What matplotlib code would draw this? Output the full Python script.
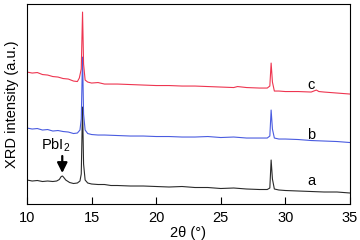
import matplotlib
matplotlib.use('Agg')
import matplotlib.pyplot as plt
import numpy as np

plt.rcParams['font.family'] = ['Liberation Sans', 'DejaVu Sans']
plt.rcParams['mathtext.default'] = 'regular'

# ---------- data (2theta in deg, intensity in a.u. with offsets) ----------
# a: black
xa = [10.0, 10.4, 10.8, 11.2, 11.6, 12.0, 12.3, 12.5, 12.65, 12.75, 12.85, 13.0,
      13.3, 13.6, 13.9, 14.1, 14.2, 14.3, 14.38, 14.5, 14.7, 15.0, 15.5, 16.0,
      16.5, 17.0, 18.0, 19.0, 20.0, 21.0, 22.0, 23.0, 24.0, 25.0, 26.0, 27.0,
      28.0, 28.6, 28.8, 28.9, 29.0, 29.15, 29.5, 30.0, 31.0, 32.0, 33.0, 34.0, 35.0]
ya = [24, 23, 23.5, 22.5, 23, 22.5, 23, 24.5, 27.5, 28, 26.5, 24,
      21.5, 20.5, 21, 23, 30, 97, 40, 24, 21, 20, 19.5, 19.5,
      18.5, 18.5, 18, 18, 17.5, 17, 17.5, 16.5, 16.5, 15.5, 16, 15,
      14.5, 14.5, 16, 44, 25, 15, 14, 13.5, 13, 12.5, 12, 12, 11]

# b: blue
xb = [10.0, 10.4, 10.8, 11.2, 11.6, 12.0, 12.4, 12.8, 13.2, 13.6, 13.9, 14.1,
      14.2, 14.3, 14.38, 14.5, 14.7, 15.0, 15.5, 16.0, 17.0, 18.0, 19.0, 20.0,
      21.0, 22.0, 23.0, 24.0, 25.0, 26.0, 27.0, 28.0, 28.6, 28.8, 28.9, 29.0,
      29.15, 29.5, 30.0, 31.0, 32.0, 33.0, 34.0, 35.0]
yb = [76, 75, 75.5, 74, 74.5, 73, 73.5, 72.5, 72, 70.5, 71, 74,
      85, 147, 90, 74, 70.5, 69.5, 69, 69, 68.5, 68, 68, 67.5,
      67.5, 67, 67, 67.5, 66.5, 67, 66, 66, 66, 68, 94, 75,
      66, 65, 65, 64.5, 63.5, 63, 62.5, 61.5]

# c: red
xc = [10.0, 10.4, 10.8, 11.2, 11.6, 12.0, 12.4, 12.8, 13.2, 13.6, 13.9, 14.05,
      14.2, 14.3, 14.38, 14.5, 14.7, 15.0, 15.5, 16.0, 17.0, 18.0, 19.0, 20.0,
      21.0, 22.0, 23.0, 24.0, 25.0, 26.0, 26.3, 27.0, 28.0, 28.6, 28.8, 28.9,
      29.0, 29.15, 29.5, 30.0, 31.0, 32.0, 32.4, 32.6, 33.0, 34.0, 35.0]
yc = [132, 131, 131.5, 129.5, 129, 127.5, 127, 125.5, 125, 123, 122.5, 126,
      135, 192, 140, 124, 122, 121, 121.5, 120, 120, 119.5, 119, 118.5,
      118.5, 118, 118, 117.5, 117, 116.5, 117.5, 116.5, 116, 116, 118, 141,
      122, 113, 113, 112.5, 112.5, 112, 114, 112.5, 112, 111, 110]

labels = ['a', 'b', 'c']
label_y = [23, 69, 119]
xticks = [10, 15, 20, 25, 30, 35]

# ---------- plot ----------
fig = plt.figure(figsize=(3.6, 2.4), dpi=100)
ax = fig.add_axes([0.075, 0.15, 0.897, 0.833])

ax.plot(xa, ya, color='#2a2a2a', lw=0.8)
ax.plot(xb, yb, color='#4a5ce0', lw=0.8)
ax.plot(xc, yc, color='#ee3550', lw=0.8)

for lab, ly in zip(labels, label_y):
    ax.text(32.0, ly, lab, fontsize=10.5, ha='center', va='center')

ax.annotate('', xy=(12.73, 31), xytext=(12.73, 48),
            arrowprops=dict(arrowstyle='-|>,head_width=0.3,head_length=0.6',
                            lw=1.6, color='black', shrinkA=0, shrinkB=0))
ax.text(12.25, 54, 'PbI$_2$', fontsize=10.5, ha='center', va='baseline')

ax.set_xlim(10, 35)
ax.set_ylim(0, 200)
ax.set_xticks(xticks)
ax.set_yticks([])
ax.tick_params(axis='x', direction='in', length=5, width=0.8, labelsize=10.5, pad=5)
ax.set_xlabel('2θ (°)', fontsize=10.5, labelpad=1)
ax.set_ylabel('XRD intensity (a.u.)', fontsize=10.5, labelpad=6)
for s in ax.spines.values():
    s.set_linewidth(0.8)

fig.savefig('out.png', dpi=100)
